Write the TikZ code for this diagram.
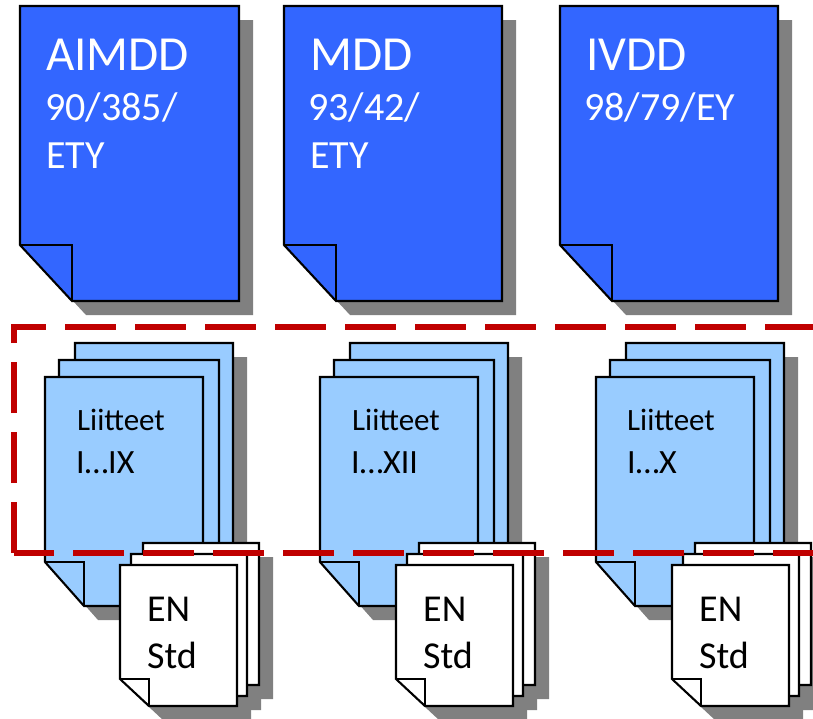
\documentclass[tikz,border=0pt]{standalone}
\usepackage{fontspec}
\setmainfont{Carlito}
\definecolor{dirblue}{HTML}{3366FF}
\definecolor{annexblue}{HTML}{99CCFF}
\definecolor{shadowgrey}{HTML}{808080}
\definecolor{framered}{HTML}{C00000}
\tikzset{
  pageedge/.style={draw=black,line width=2.1pt,line join=miter},
  shadowshape/.style={fill=shadowgrey,draw=none},
  frameline/.style={draw=framered,line width=6pt},
  bigtext/.style={anchor=base west,inner sep=0pt,text=white,font=\fontsize{49}{49}\selectfont},
  midtext/.style={anchor=base west,inner sep=0pt,text=white,font=\fontsize{40}{40}\selectfont},
  annextitle/.style={anchor=base west,inner sep=0pt,text=black,font=\fontsize{31}{31}\selectfont},
  annexrange/.style={anchor=base west,inner sep=0pt,text=black,font=\fontsize{34}{34}\selectfont},
  stdtext/.style={anchor=base west,inner sep=0pt,text=black,font=\fontsize{38}{38}\selectfont}
}
% left, top, right, bottom, fold x, fold y
\newcommand{\pageoutline}[6]{(#1,#2) -- (#3,#2) -- (#3,#4) -- (#5,#4) -- (#1,#6) -- cycle}
\newcommand{\pageshadow}[6]{%
  \fill[shadowshape,shift={(14,14)}] \pageoutline{#1}{#2}{#3}{#4}{#5}{#6};}
\newcommand{\foldedpage}[7]{%
  \path[pageedge,fill=#7] \pageoutline{#1}{#2}{#3}{#4}{#5}{#6};
  \path[pageedge] (#1,#6) -- (#5,#6) -- (#5,#4);}
\newcommand{\annexstack}[1]{%
  \begin{scope}[xshift=#1]
    \pageshadow{75}{343}{233}{572}{114}{528}
    \pageshadow{45}{377}{203}{606}{84}{562}
    \foldedpage{75}{343}{233}{572}{114}{528}{annexblue}
    \foldedpage{59}{360}{219}{589}{98}{545}{annexblue}
    \foldedpage{45}{377}{203}{606}{84}{562}{annexblue}
  \end{scope}}
\newcommand{\stdstack}[1]{%
  \begin{scope}[xshift=#1]
    \pageshadow{143}{543}{259}{685}{172}{657}
    \pageshadow{131}{554}{247}{696}{160}{668}
    \pageshadow{120}{565}{237}{706}{149}{679}
    \foldedpage{143}{543}{259}{685}{172}{657}{white}
    \foldedpage{131}{554}{247}{696}{160}{668}{white}
    \foldedpage{120}{565}{237}{706}{149}{679}{white}
  \end{scope}}
\begin{document}
\begin{tikzpicture}[x=1pt,y=-1pt]
\clip (0,0) rectangle (813,718);
\fill[white] (0,0) rectangle (813,718);
% directive pages
\pageshadow{20}{6}{239}{301}{72}{245}
\foldedpage{20}{6}{239}{301}{72}{245}{dirblue}
\pageshadow{284}{6}{502}{301}{336}{245}
\foldedpage{284}{6}{502}{301}{336}{245}{dirblue}
\pageshadow{560}{6}{778}{301}{612}{245}
\foldedpage{560}{6}{778}{301}{612}{245}{dirblue}
\node[bigtext] (t1) at (46,70) {AIMDD};
\node[midtext] (c1a) at (45,120) {90/385/};
\node[midtext] (c1b) at (46,168) {ETY};
\node[bigtext] (t2) at (310,70) {MDD};
\node[midtext] (c2a) at (308,120) {93/42/};
\node[midtext] (c2b) at (310,168) {ETY};
\node[bigtext] (t3) at (586,70) {IVDD};
\node[midtext] (c3a) at (584,120) {98/79/EY};
% annex stacks
\annexstack{0pt}
\annexstack{275pt}
\annexstack{551pt}
\node[annextitle] (a1) at (77,430) {Liitteet};
\node[annexrange] (r1) at (76,473) {I…IX};
\node[annextitle] (a2) at (352,430) {Liitteet};
\node[annexrange] (r2) at (351,473) {I…XII};
\node[annextitle] (a3) at (627,430) {Liitteet};
\node[annexrange] (r3) at (627,473) {I…X};
% standards stacks
\stdstack{0pt}
\stdstack{276pt}
\stdstack{552pt}
\node[stdtext] (e1) at (147,621) {EN};
\node[stdtext] (s1) at (147,668) {Std};
\node[stdtext] (e2) at (423,621) {EN};
\node[stdtext] (s2) at (423,668) {Std};
\node[stdtext] (e3) at (699,621) {EN};
\node[stdtext] (s3) at (699,668) {Std};
% dashed frame
\draw[frameline,dash pattern=on 51pt off 19pt,dash phase=16pt] (11,327) -- (813,327);
\draw[frameline,dash pattern=on 51pt off 19pt] (14,553) -- (14,327);
\draw[frameline,dash pattern=on 51pt off 19pt,dash phase=11pt] (14,553) -- (813,553);
\end{tikzpicture}
\end{document}
